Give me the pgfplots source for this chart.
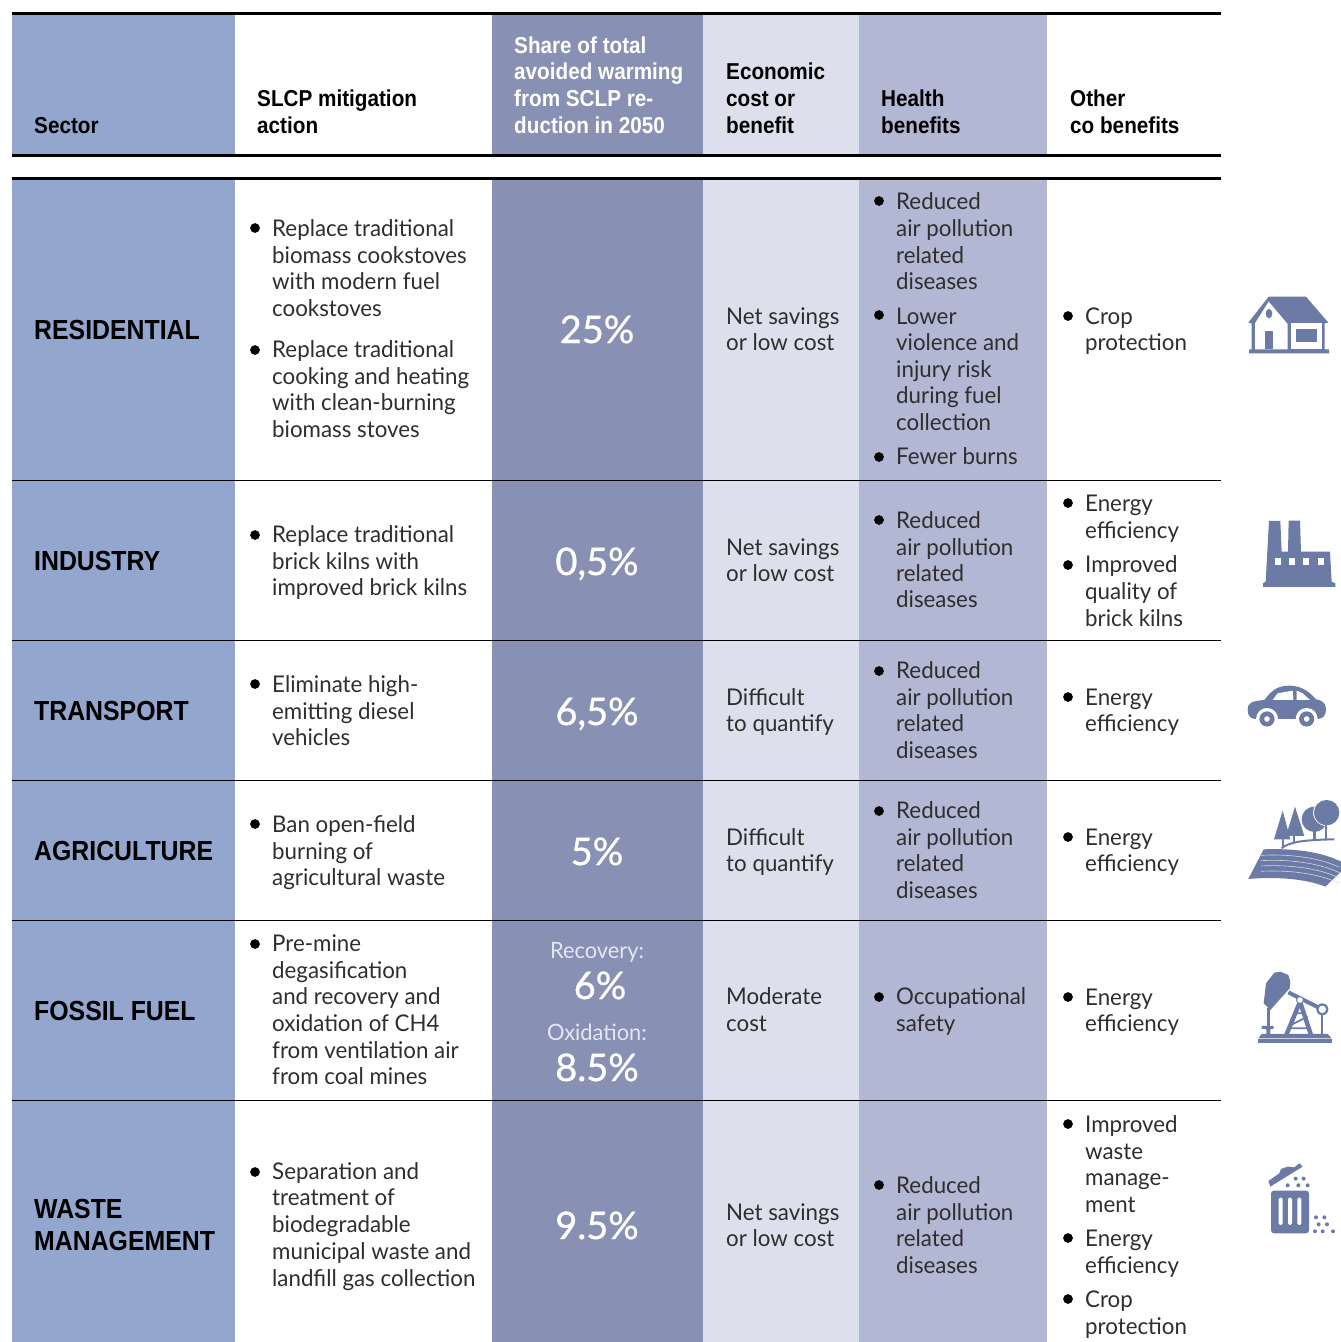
\documentclass[border=0pt]{standalone}
\usepackage{pgfplots}
\pgfplotsset{compat=1.18}
\usepackage{fontspec}
\setmainfont[FakeStretch=0.97]{Lato}
\newfontfamily\numfont[FakeBold=0.9]{Lato}
\newfontfamily\hdfont[FakeStretch=0.90]{Liberation Sans}
\definecolor{cSec}{HTML}{93A6CD}
\definecolor{cShare}{HTML}{8891B4}
\definecolor{cEco}{HTML}{DDE0EC}
\definecolor{cHea}{HTML}{B2B7D3}
\definecolor{cIcon}{HTML}{6C7AA6}
\definecolor{cSoft}{HTML}{E4E7F1}
\pgfmathsetmacro{\dummy}{0}
\newcommand{\Tx}[3]{\node[anchor=base west,inner sep=0pt,yshift=0.4pt,font=\fontsize{23}{26}\selectfont,text=black!82] at (axis cs:#1,#2) {#3};}
\newcommand{\Hd}[4]{\node[anchor=base west,inner sep=0pt,font=\fontsize{#4}{26}\selectfont\hdfont\bfseries,text=black] at (axis cs:#1,#2) {#3};}
\newcommand{\Wh}[3]{\node[anchor=base west,inner sep=0pt,font=\fontsize{23}{26}\selectfont\hdfont\bfseries,text=white] at (axis cs:#1,#2) {#3};}
\newcommand{\Nm}[4]{\node[anchor=base,inner sep=0pt,font=\fontsize{#4}{26}\selectfont\numfont,text=white] at (axis cs:#1,#2) {#3};}
\newcommand{\Sf}[3]{\node[anchor=base,inner sep=0pt,font=\fontsize{22.5}{26}\selectfont,text=cSoft] at (axis cs:#1,#2) {#3};}
\newcommand{\Rc}[5]{\addplot[fill=#5,draw=none,forget plot] coordinates {(#1,#3)(#2,#3)(#2,#4)(#1,#4)} -- cycle;}
\newcommand{\HL}[2]{\addplot[draw=black,line width=#2pt,forget plot] coordinates {(12,#1)(1221,#1)};}
\begin{document}
\begin{tikzpicture}
\begin{axis}[scale only axis,width=1341pt,height=1342pt,xmin=0,xmax=1341,ymin=0,ymax=1342,y dir=reverse,hide axis,clip=false]
\Rc{12}{234.5}{14}{155}{cSec}
\Rc{492}{703}{14}{155}{cShare}
\Rc{703}{858.5}{14}{155}{cEco}
\Rc{858.5}{1047}{14}{155}{cHea}
\Rc{12}{234.5}{178}{1342}{cSec}
\Rc{492}{703}{178}{1342}{cShare}
\Rc{703}{858.5}{178}{1342}{cEco}
\Rc{858.5}{1047}{178}{1342}{cHea}
\HL{13.5}{3}
\HL{155.5}{3}
\HL{178}{3}
\HL{480}{1}
\HL{640.5}{1}
\HL{780.5}{1}
\HL{920.5}{1}
\HL{1100.5}{1}
% bullets
\addplot[only marks,mark=*,mark size=4.6pt,mark options={fill=black,draw=none},forget plot] coordinates {
(255,228)(255,350)(255,535)(255,684)(255,824)(255,944)(255,1172)
(879,201)(879,315)(879,457)(879,520)(879,671)(879,811)(879,997)(879,1185)
(1068,316)(1068,503)(1068,565)(1068,697)(1068,837)(1068,997)(1068,1124)(1068,1238)(1068,1299)};
% header
\Hd{34}{133}{Sector}{23}
\Hd{257}{106}{SLCP mitigation}{23}
\Hd{257}{133}{action}{23}
\Wh{514}{53}{Share of total}
\Wh{514}{79}{avoided warming}
\Wh{514}{106}{from SCLP re-}
\Wh{514}{133}{duction in 2050}
\Hd{726}{79}{Economic}{23}
\Hd{726}{106}{cost or}{23}
\Hd{726}{133}{benefit}{23}
\Hd{881}{106}{Health}{23}
\Hd{881}{133}{benefits}{23}
\Hd{1070}{106}{Other}{23}
\Hd{1070}{133}{co benefits}{23}
% sectors
\Hd{34}{339}{RESIDENTIAL}{27.6}
\Hd{34}{570}{INDUSTRY}{27.6}
\Hd{34}{720}{TRANSPORT}{27.6}
\Hd{34}{860}{AGRICULTURE}{27.6}
\Hd{34}{1020}{FOSSIL FUEL}{27.6}
\Hd{34}{1218}{WASTE}{27.6}
\Hd{34}{1250}{MANAGEMENT}{27.6}
% actions
\Tx{272}{237}{Replace traditional}
\Tx{272}{264}{biomass cookstoves}
\Tx{272}{290}{with modern fuel}
\Tx{272}{317}{cookstoves}
\Tx{272}{358}{Replace traditional}
\Tx{272}{385}{cooking and heating}
\Tx{272}{411}{with clean-burning}
\Tx{272}{438}{biomass stoves}
\Tx{272}{543}{Replace traditional}
\Tx{272}{570}{brick kilns with}
\Tx{272}{596}{improved brick kilns}
\Tx{272}{693}{Eliminate high-}
\Tx{272}{720}{emitting diesel}
\Tx{272}{746}{vehicles}
\Tx{272}{833}{Ban open-field}
\Tx{272}{860}{burning of}
\Tx{272}{886}{agricultural waste}
\Tx{272}{952}{Pre-mine}
\Tx{272}{979}{degasification}
\Tx{272}{1005}{and recovery and}
\Tx{272}{1032}{oxidation of CH4}
\Tx{272}{1059}{from ventilation air}
\Tx{272}{1085}{from coal mines}
\Tx{272}{1180}{Separation and}
\Tx{272}{1206}{treatment of}
\Tx{272}{1233}{biodegradable}
\Tx{272}{1260}{municipal waste and}
\Tx{272}{1287}{landfill gas collection}
% shares
\Nm{597}{343}{25\%}{38}
\Nm{597}{575}{0,5\%}{38}
\Nm{597}{725}{6,5\%}{38}
\Nm{597}{865}{5\%}{38}
\Sf{597}{958}{Recovery:}
\Nm{600}{999}{6\%}{38}
\Sf{597}{1040}{Oxidation:}
\Nm{597}{1081}{8.5\%}{38}
\Nm{597}{1239}{9.5\%}{38}
% economic
\Tx{726}{325}{Net savings}
\Tx{726}{351}{or low cost}
\Tx{726}{556}{Net savings}
\Tx{726}{582}{or low cost}
\Tx{726}{706}{Difficult}
\Tx{726}{732}{to quantify}
\Tx{726}{846}{Difficult}
\Tx{726}{872}{to quantify}
\Tx{726}{1005}{Moderate}
\Tx{726}{1032}{cost}
\Tx{726}{1221}{Net savings}
\Tx{726}{1247}{or low cost}
% health
\Tx{896}{210}{Reduced}
\Tx{896}{237}{air pollution}
\Tx{896}{264}{related}
\Tx{896}{290}{diseases}
\Tx{896}{325}{Lower}
\Tx{896}{351}{violence and}
\Tx{896}{378}{injury risk}
\Tx{896}{404}{during fuel}
\Tx{896}{431}{collection}
\Tx{896}{465}{Fewer burns}
\Tx{896}{529}{Reduced}
\Tx{896}{556}{air pollution}
\Tx{896}{582}{related}
\Tx{896}{608}{diseases}
\Tx{896}{679}{Reduced}
\Tx{896}{706}{air pollution}
\Tx{896}{732}{related}
\Tx{896}{759}{diseases}
\Tx{896}{819}{Reduced}
\Tx{896}{846}{air pollution}
\Tx{896}{872}{related}
\Tx{896}{899}{diseases}
\Tx{896}{1005}{Occupational}
\Tx{896}{1032}{safety}
\Tx{896}{1194}{Reduced}
\Tx{896}{1221}{air pollution}
\Tx{896}{1247}{related}
\Tx{896}{1274}{diseases}
% other
\Tx{1085}{325}{Crop}
\Tx{1085}{351}{protection}
\Tx{1085}{512}{Energy}
\Tx{1085}{539}{efficiency}
\Tx{1085}{573}{Improved}
\Tx{1085}{600}{quality of}
\Tx{1085}{627}{brick kilns}
\Tx{1085}{706}{Energy}
\Tx{1085}{732}{efficiency}
\Tx{1085}{846}{Energy}
\Tx{1085}{872}{efficiency}
\Tx{1085}{1006}{Energy}
\Tx{1085}{1032}{efficiency}
\Tx{1085}{1133}{Improved}
\Tx{1085}{1160}{waste}
\Tx{1085}{1186}{manage-}
\Tx{1085}{1213}{ment}
\Tx{1085}{1247}{Energy}
\Tx{1085}{1274}{efficiency}
\Tx{1085}{1308}{Crop}
\Tx{1085}{1335}{protection}
\end{axis}
% icons (zoom coordinates: 3 units = 1 px)
\begin{scope}[shift={(1231pt,1062pt)},x=.3333pt,y=-.3333pt]
\fill[cIcon] (113,50)--(225,50)--(292,128)--(281,130)--(281,208)--(294,208)--(294,220)--(54,220)--(54,208)--(62,208)--(62,130)--(52,128)--cycle;
\fill[white] (113,65)--(168,130)--(170,130)--(170,208)--(72,208)--(72,130)--cycle;
\fill[white] (180,130)--(272,130)--(272,208)--(180,208)--cycle;
\fill[cIcon] (102,153) rectangle (127,208);
\fill[cIcon] (114,101) ellipse [x radius=10,y radius=14];
\fill[cIcon] (195,147) rectangle (258,186);
\fill[cIcon] (114,723)--(148,723)--(152,815)--(171,815)--(173,722)--(207,722)--(210,815)--(297,815)--(302,905)--(313,910)--(313,921)--(96,921)--(96,910)--(104,905)--cycle;
\foreach \a in {132,175,217,260} {\fill[white] (\a,833) rectangle ++(18,23);}
\end{scope}
\begin{scope}[shift={(1231pt,672pt)},x=.3333pt,y=-.3333pt]
% car
\fill[cIcon] (72,147) .. controls (55,145) and (50,135) .. (50,118) .. controls (50,100) and (60,93) .. (100,90) .. controls (120,65) and (135,47) .. (175,47) .. controls (210,47) and (235,65) .. (255,88) .. controls (280,92) and (285,105) .. (285,120) .. controls (285,135) and (275,147) .. (260,147) -- cycle;
\fill[white] (125,90)--(140,70)--(185,62)--(187,90)--cycle;
\fill[white] (197,62)--(215,70)--(237,90)--(197,90)--cycle;
\foreach \a in {108,227} {\fill[white] (\a,147) circle [radius=11pt];}
\fill[white] (60,147) rectangle (280,175);
\foreach \a in {108,227} {\fill[cIcon] (\a,147) circle [radius=7.6pt];\fill[white] (\a,147) circle [radius=2.8pt];}
% farm
\fill[cIcon] (155,422)--(129,508)--(178,508)--cycle;
\fill[cIcon] (153,505) rectangle (159,535);
\fill[cIcon] (192,410)--(165,498)--(220,498)--cycle;
\fill[cIcon] (186,495) rectangle (192,518);
\fill[cIcon] (250,448) circle [radius=12.7pt];
\fill[white] (287,428) circle [radius=13.5pt];
\fill[cIcon] (287,428) circle [radius=12.7pt];
\fill[cIcon] (247,470) rectangle (254,510);
\fill[cIcon] (282,455) rectangle (289,510);
\draw[cIcon,line width=2pt] (152,535) .. controls (175,515) and (220,510) .. (310,508);
\fill[cIcon] (98,538) .. controls (190,535) and (270,545) .. (330,575) -- (330,605) -- (283,650) .. controls (220,625) and (130,620) .. (52,627) -- cycle;
\foreach \a in {556,572,588,604} {\draw[white!70!cIcon,line width=.6pt] (90,\a) .. controls (170,\a-4) and (260,\a+5) .. (325,\a+36);}
\end{scope}
\begin{scope}[shift={(1231pt,382pt)},x=.3333pt,y=-.3333pt]
% pump
\fill[cIcon] (105,70)--(130,38)--(148,35)--(172,45)--(178,65)--(176,85)--(118,150)--(103,135)--(98,130)--cycle;
\fill[cIcon] (108,145) rectangle (116,200);
\fill[cIcon] (92,198)--(128,198)--(128,206)--(118,208)--(118,222)--(290,222)--(302,235)--(82,235)--(92,222)--(106,222)--(106,208)--(92,206)--cycle;
\fill[cIcon] (82,238) rectangle (302,248);
\draw[cIcon,line width=4pt] (172,97)--(274,148);
\fill[cIcon] (270,160) rectangle (277,225);
\draw[cIcon,line width=4.4pt] (207,125)--(166,225);
\draw[cIcon,line width=4.4pt] (207,125)--(240,225);
\draw[cIcon,line width=1.8pt] (190,160)--(222,160) (180,195)--(230,170) (175,205)--(235,205);
\fill[cIcon] (207,120) circle [radius=4pt];
\fill[white] (207,120) circle [radius=2.8pt];
\fill[cIcon] (274,148) circle [radius=6pt];
\fill[white] (274,148) circle [radius=3.7pt];
% trash
\fill[cIcon] (112,663)--(145,640)--(150,627)--(170,620)--(190,622)--(205,610)--(215,620)--(118,680)--cycle;
\fill[cIcon,rounded corners=3pt] (120,692)--(234,692)--(234,820)--(120,820)--cycle;
\foreach \a in {143,171,199} {\fill[white,rounded corners=1.5pt] (\a,713) rectangle ++(12,82);}
\foreach \p in {(194,656),(218,656),(170,676),(202,676),(230,676),(255,772),(280,772),(263,793),(288,793),(252,814),(275,814),(306,814)} {\fill[cIcon] \p circle [radius=2pt];}
\end{scope}
\useasboundingbox (0,0) rectangle (1341pt,1342pt);
\end{tikzpicture}
\end{document}
